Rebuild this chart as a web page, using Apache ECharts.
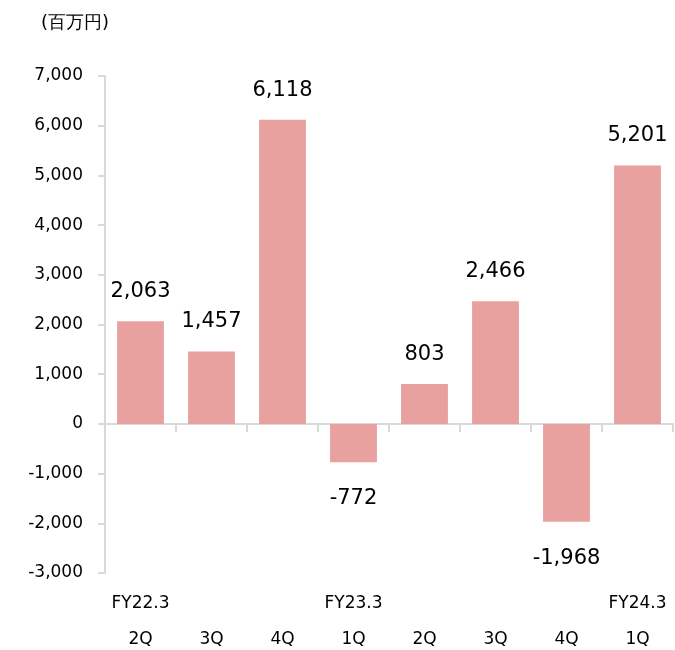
<!DOCTYPE html>
<html><head><meta charset="utf-8">
<script src="https://cdn.jsdelivr.net/npm/echarts@6/dist/echarts.min.js"></script>
<style>html,body{margin:0;padding:0;background:#fff}#c{width:675px;height:650px}</style>
</head><body><div id="c"></div>
<script>
var fiscalYears = ['FY22.3', '', '', 'FY23.3', '', '', '', 'FY24.3'];
var quarters = ['2Q', '3Q', '4Q', '1Q', '2Q', '3Q', '4Q', '1Q'];
var values = [2063, 1457, 6118, -772, 803, 2466, -1968, 5201];
var unitLabel = '(百万円)';

var cats = quarters.map(function (q, i) { return i + ''; });
var font = 'DejaVu Sans';
var chart = echarts.init(document.getElementById('c'));
chart.setOption({
  backgroundColor: '#fff',
  animation: false,
  textStyle: { fontFamily: font },
  title: { text: unitLabel, left: 36, top: 9, textStyle: { fontFamily: font, fontSize: 18, fontWeight: 'normal', color: '#000' } },
  grid: { left: 105, right: 2, top: 76, bottom: 77 },
  xAxis: [{
    type: 'category', data: cats, position: 'bottom',
    axisLine: { show: false, onZero: false }, axisTick: { show: false },
    axisLabel: {
      interval: 0, margin: 13,
      formatter: function (v, i) {
        return '{a|' + (fiscalYears[i] || ' ') + '}\n{b|' + quarters[i] + '}';
      },
      rich: {
        a: { fontFamily: font, fontSize: 17, color: '#000', lineHeight: 36 },
        b: { fontFamily: font, fontSize: 17, color: '#000', lineHeight: 36 }
      }
    }
  }, {
    type: 'category', data: cats, position: 'bottom',
    axisLine: { show: true, onZero: true, lineStyle: { color: '#d9d9d9', width: 2 } },
    axisTick: { show: true, length: 8, lineStyle: { color: '#d9d9d9', width: 2 } },
    axisLabel: { show: false }
  }],
  yAxis: {
    type: 'value', min: -3000, max: 7000, interval: 1000,
    axisLine: { show: true, lineStyle: { color: '#d9d9d9', width: 2 } },
    axisTick: { show: true, length: 7, lineStyle: { color: '#d9d9d9', width: 2 } },
    splitLine: { show: false },
    axisLabel: { margin: 22, fontFamily: font, fontSize: 17, color: '#000',
      formatter: function (v) { return v.toLocaleString('en-US'); } }
  },
  series: [{
    type: 'bar', xAxisIndex: 0, barWidth: '66%',
    data: values.map(function (v) {
      return { value: v, label: { position: v >= 0 ? 'top' : 'bottom', distance: v >= 0 ? 19 : 26 } };
    }),
    itemStyle: { color: '#e8a19f' },
    label: { show: true, fontFamily: font, fontSize: 21, color: '#000',
      formatter: function (p) { return p.value.toLocaleString('en-US'); } }
  }]
});
</script></body></html>
